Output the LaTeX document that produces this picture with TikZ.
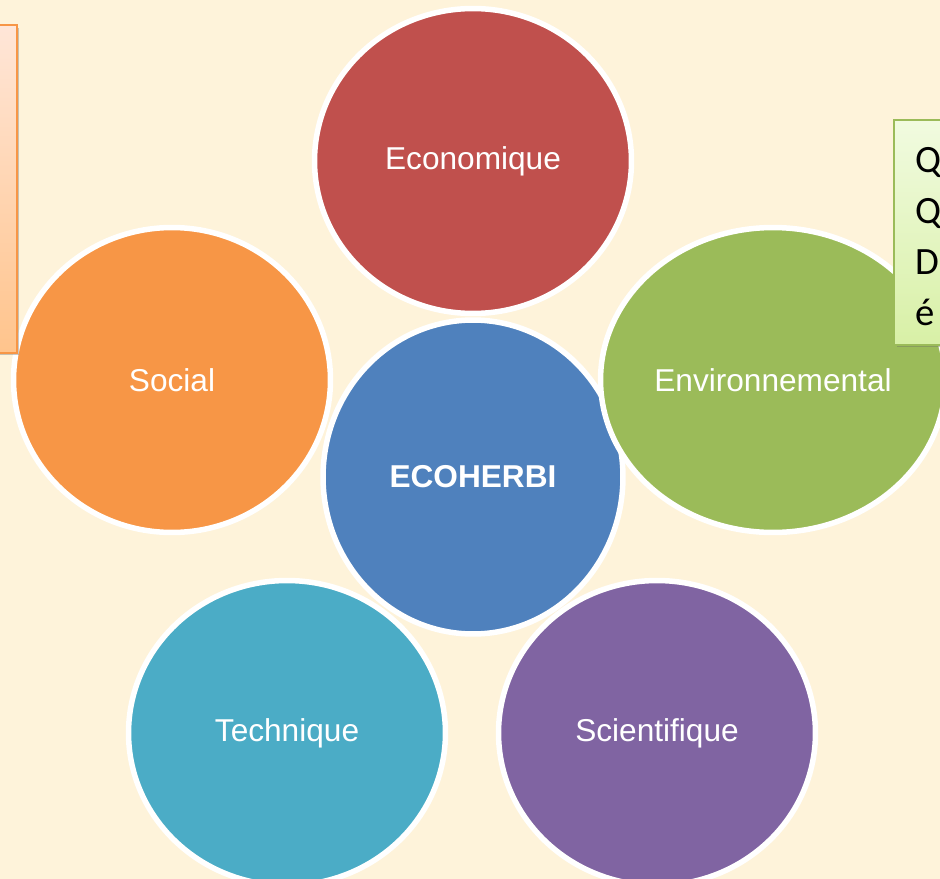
\documentclass[tikz,border=0pt]{standalone}
\usepackage{fontspec}
\setmainfont{Liberation Sans}
\newfontfamily\notefont{Carlito}
\usetikzlibrary{shapes.geometric}
\usetikzlibrary{shadows}

\definecolor{bgcream}{HTML}{FEF3DA}
\definecolor{ecored}{HTML}{C0504D}
\definecolor{socorange}{HTML}{F79646}
\definecolor{envgreen}{HTML}{9BBB59}
\definecolor{midblue}{HTML}{4F81BD}
\definecolor{techteal}{HTML}{4BACC6}
\definecolor{scipurple}{HTML}{8064A2}
\definecolor{peachtop}{HTML}{FFE6D8}
\definecolor{peachbot}{HTML}{FFC48C}
\definecolor{limetop}{HTML}{F1FBE0}
\definecolor{limebot}{HTML}{D8F0A6}

\begin{document}
\begin{tikzpicture}[x=0.02cm,y=-0.02cm,
  blob/.style={ellipse,draw=white,line width=0.11cm,text=white,inner sep=0pt,
    font=\fontsize{18}{22}\selectfont,minimum width=6.34cm,minimum height=6.1cm},
  notebox/.style={rectangle,line width=0.035cm,inner sep=0pt,
    drop shadow={shadow xshift=0.05cm,shadow yshift=-0.05cm,opacity=0.35,fill=black!60}}]
  \clip (0,0) rectangle (940,879);
  \fill[bgcream] (0,0) rectangle (940,879);
  % centre first, the others lie over it
  \node[blob,fill=midblue,minimum width=6cm,minimum height=6.28cm,font=\fontsize{18}{22}\selectfont\bfseries] (ecoherbi) at (473,477) {ECOHERBI};
  \node[blob,fill=ecored] (eco) at (473,161) {Economique};
  \node[blob,fill=socorange] (soc) at (172,380) {Social};
  \node[blob,fill=envgreen,minimum width=6.9cm] (env) at (773,380) {Environnemental};
  \node[blob,fill=techteal] (tech) at (287,733) {Technique};
  \node[blob,fill=scipurple] (sci) at (657,733) {Scientifique};
  % side notes
  \node[notebox,draw=socorange,top color=peachtop,bottom color=peachbot,
    minimum width=0.54cm,minimum height=6.56cm] (leftnote) at (3.5,189) {};
  \node[notebox,draw=envgreen,top color=limetop,bottom color=limebot,
    minimum width=1.32cm,minimum height=4.5cm] (rightnote) at (927,232.5) {};
  \node[anchor=north west,inner sep=0pt,align=left,
    font=\notefont\fontsize{22}{29}\selectfont] (notetext) at (915,147) {Q\\Q\\D\\é};
\end{tikzpicture}
\end{document}
